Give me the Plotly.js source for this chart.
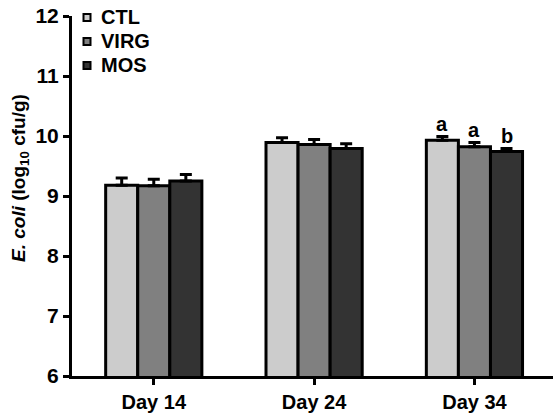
<!DOCTYPE html>
<html><head><meta charset="utf-8">
<script src="https://cdn.plot.ly/plotly-3.0.1.min.js"></script>
<style>html,body{margin:0;padding:0;background:#fff}#c{width:554px;height:415px}</style>
</head><body><div id="c"></div>
<script>
var days = ["Day 14", "Day 24", "Day 34"];
var seriesNames = ["CTL", "VIRG", "MOS"];
var ctl = [9.18, 9.89, 9.93];
var virg = [9.17, 9.86, 9.82];
var mos = [9.25, 9.79, 9.74];
var ctlErr = [0.12, 0.08, 0.06];
var virgErr = [0.11, 0.08, 0.07];
var mosErr = [0.11, 0.08, 0.05];
var letters = ["a", "a", "b"];   // Day 34 significance letters
var colors = ["#cccccc", "#808080", "#333333"];

var vals = [ctl, virg, mos], errs = [ctlErr, virgErr, mosErr];
var font = {family: "Liberation Sans, Arial, sans-serif", color: "#000", weight: "bold"};
var W = 554, H = 415, M = {l: 72, r: 1, t: 16, b: 39};
var pw = W - M.l - M.r, ph = H - M.t - M.b;
function px(x){ return (x - M.l) / pw; }
function py(y){ return (H - M.b - y) / ph; }

var traces = vals.map(function(v, i){
  return {type: "bar", name: seriesNames[i], x: days, y: v,
    marker: {color: colors[i], line: {color: "#000", width: 3}},
    error_y: {type: "data", symmetric: false, array: errs[i], arrayminus: errs[i].map(function(){return 0;}),
      color: "#000", thickness: 3, width: 6}};
});
var offs = [-0.2, 0, 0.2];
var ann = letters.map(function(t, i){
  return {x: 2 + offs[i], y: vals[i][2] + errs[i][2], xref: "x", yref: "y", text: t, showarrow: false,
    yanchor: "bottom", yshift: 0, font: Object.assign({}, font, {size: 20})};
});
// legend drawn manually
var shapes = [];
seriesNames.forEach(function(n, i){
  var cy = 17.5 + 24 * i;
  shapes.push({type: "rect", xref: "paper", yref: "paper", x0: px(83.5), x1: px(90.5), y0: py(cy + 3.5), y1: py(cy - 3.5),
    fillcolor: colors[i], line: {color: "#000", width: 2}});
  ann.push({xref: "paper", yref: "paper", x: px(99), y: py(cy), xanchor: "left", yanchor: "middle", showarrow: false,
    text: n, font: Object.assign({}, font, {size: 20})});
});
// y-axis title
ann.push({xref: "paper", yref: "paper", x: px(20), y: py(178), xanchor: "center", yanchor: "middle", showarrow: false,
  textangle: -90, text: "<i>E. coli</i> (log<sub>10</sub> cfu/g)", font: Object.assign({}, font, {size: 19})});

var layout = {
  width: W, height: H, margin: M,
  paper_bgcolor: "#fff", plot_bgcolor: "#fff",
  barmode: "group", bargap: 0.4, bargroupgap: 0,
  font: font,
  showlegend: false,
  xaxis: {type: "category", range: [-0.51, 2.49], showline: true, linecolor: "#000", linewidth: 3,
    ticks: "outside", ticklen: 6, tickwidth: 3, tickcolor: "#000", showgrid: false, zeroline: false,
    tickfont: Object.assign({}, font, {size: 20})},
  yaxis: {range: [6, 12], dtick: 1, showline: true, linecolor: "#000", linewidth: 3,
    ticks: "outside", ticklen: 6, tickwidth: 3, tickcolor: "#000", showgrid: false, zeroline: false,
    tickfont: Object.assign({}, font, {size: 21})},
  annotations: ann,
  shapes: shapes
};
Plotly.newPlot("c", traces, layout, {displayModeBar: false, staticPlot: true});
</script></body></html>
